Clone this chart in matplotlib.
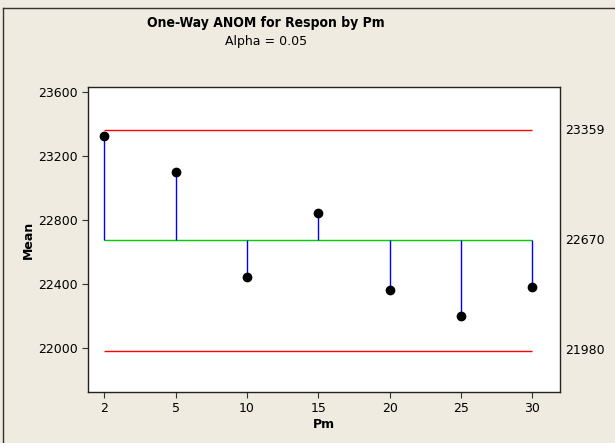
import numpy as np
import matplotlib.pyplot as plt
from matplotlib.lines import Line2D

pm = ['2', '5', '10', '15', '20', '25', '30']
means = [23325, 23100, 22440, 22840, 22360, 22200, 22380]
center = 22670
udl = 23359
ldl = 21980

bg = '#EFEBE1'
fig = plt.figure(figsize=(6.15, 4.43), dpi=100, facecolor=bg)
ax = fig.add_axes([88 / 615, 1 - 392 / 443, (560 - 88) / 615, (392 - 87) / 443])
ax.set_facecolor('white')

x = np.arange(len(pm))
ax.hlines(center, x[0], x[-1], color='#00D000', lw=1)
ax.hlines([udl, ldl], x[0], x[-1], color='red', lw=1)
ax.vlines(x, center, means, color='blue', lw=1)
ax.plot(x, means, 'o', color='black', ms=6, zorder=3)

ax.set_xlim(-0.23, 6.39)
ax.set_ylim(21723, 23629)
ax.set_xticks(x)
ax.set_xticklabels(pm)
ax.set_yticks([22000, 22400, 22800, 23200, 23600])
ax.tick_params(labelsize=9, length=4, color='#333333')
for s in ax.spines.values():
    s.set_color('#222222')
    s.set_linewidth(1)

ax.set_xlabel('Pm', fontsize=9, fontweight='bold', labelpad=2)
ax.set_ylabel('Mean', fontsize=9, fontweight='bold', labelpad=2)

for v in [udl, center, ldl]:
    ax.text(1.01, v, str(v), transform=ax.get_yaxis_transform(),
            va='center', ha='left', fontsize=9)

fig.text(0.433, 1 - 23 / 443, 'One-Way ANOM for Respon by Pm', ha='center',
         va='center', fontsize=10, fontweight='bold',
         family=['DejaVu Sans Condensed', 'DejaVu Sans'], fontstretch='condensed')
fig.text(0.433, 1 - 42 / 443, 'Alpha = 0.05', ha='center', va='center', fontsize=9)

# outer frame (left and top edges visible)
fig.add_artist(Line2D([3 / 615, 3 / 615], [0, 1 - 8 / 443], transform=fig.transFigure,
                      color='#333333', lw=1))
fig.add_artist(Line2D([3 / 615, 1], [1 - 8 / 443, 1 - 8 / 443], transform=fig.transFigure,
                      color='#333333', lw=1))

plt.savefig('out.png', dpi=100, facecolor=bg)
